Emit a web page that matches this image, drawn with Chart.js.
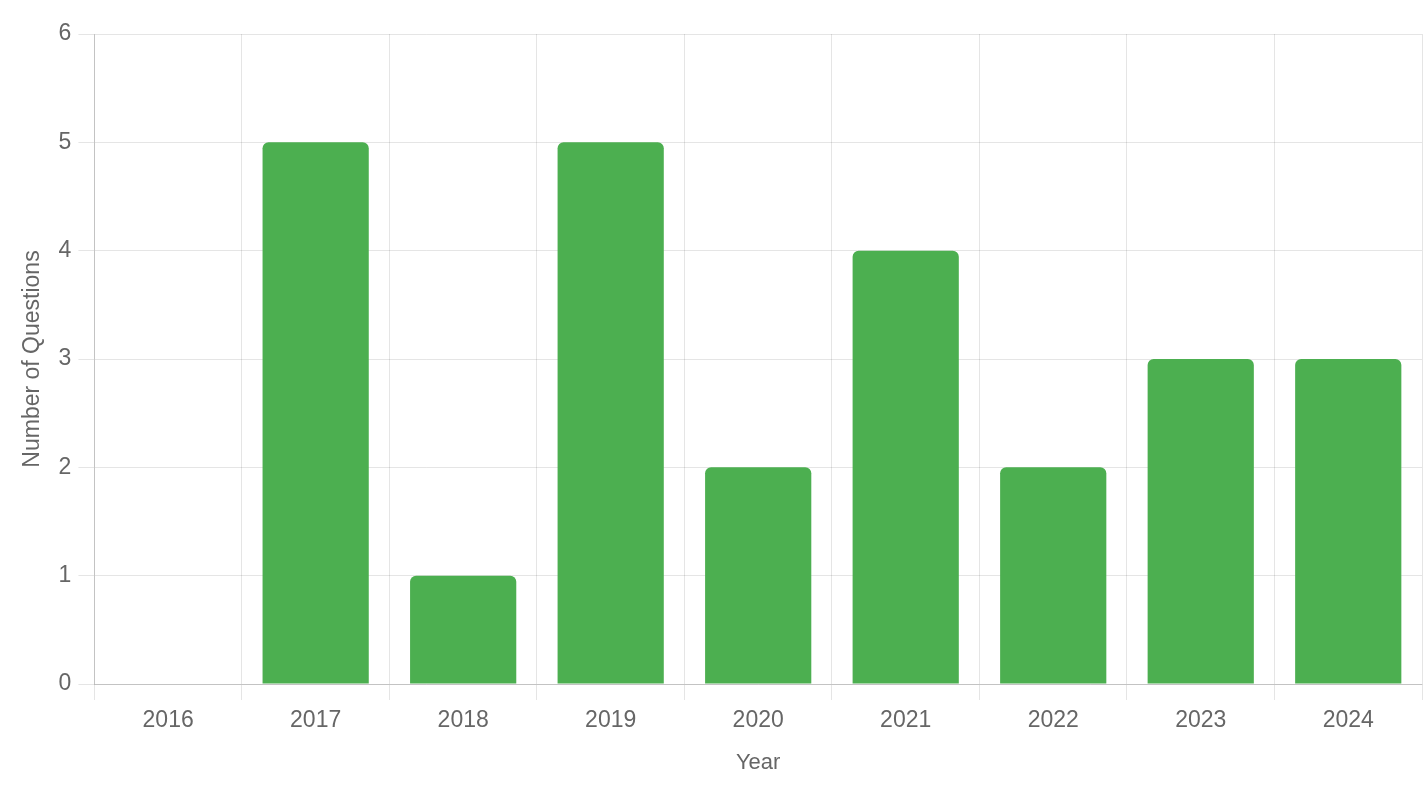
<!DOCTYPE html>
<html>
<head>
<meta charset="utf-8">
<script src="https://cdn.jsdelivr.net/npm/chart.js@4.4.1/dist/chart.umd.min.js"></script>
<style>
html,body{margin:0;padding:0;background:#fff;}
#wrap{width:1424px;height:786px;position:relative;}
</style>
</head>
<body>
<div id="wrap"><canvas id="c"></canvas></div>
<script>
const categories = ["2016","2017","2018","2019","2020","2021","2022","2023","2024"];
const questionCounts = [0,5,1,5,2,4,2,3,3];
const yTicks = [0,1,2,3,4,5,6];

const fontFamily = "'Liberation Sans', Arial, Helvetica, sans-serif";
const textColor = "#666666";

new Chart(document.getElementById('c'), {
  type: 'bar',
  data: {
    labels: categories,
    datasets: [{
      label: 'Number of Questions',
      data: questionCounts,
      backgroundColor: '#4caf50',
      borderRadius: 6,
      borderSkipped: 'start'
    }]
  },
  options: {
    responsive: true,
    maintainAspectRatio: false,
    animation: false,
    layout: { padding: { top: 34, right: 2, left: 15, bottom: 6 } },
    plugins: { legend: { display: false }, tooltip: { enabled: false } },
    scales: {
      x: {
        grid: { color: 'rgba(0,0,0,0.1)', tickLength: 16 },
        border: { color: 'rgba(0,0,0,0.15)' },
        ticks: { color: textColor, font: { family: fontFamily, size: 23 }, padding: 7 },
        title: { display: true, text: 'Year', color: textColor, font: { family: fontFamily, size: 22 }, padding: { top: 8 } }
      },
      y: {
        min: 0, max: 6,
        afterBuildTicks: (axis) => { axis.ticks = yTicks.map(v => ({ value: v })); },
        grid: { color: 'rgba(0,0,0,0.1)', tickLength: 16 },
        border: { color: 'rgba(0,0,0,0.15)' },
        ticks: { color: textColor, font: { family: fontFamily, size: 23 }, padding: 7 },
        title: { display: true, text: 'Number of Questions', color: textColor, font: { family: fontFamily, size: 23 }, padding: { bottom: 5 } }
      }
    }
  }
});
</script>
</body>
</html>
